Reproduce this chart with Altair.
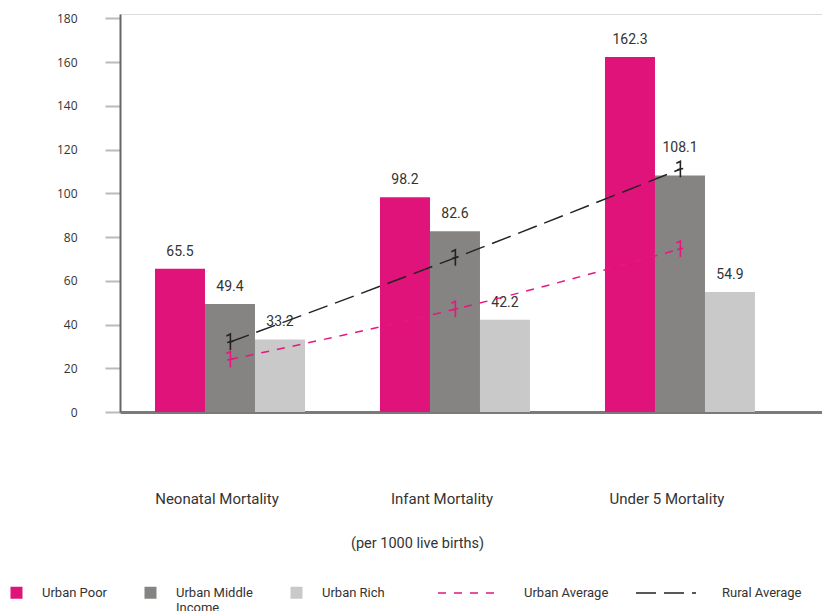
import altair as alt
import pandas as pd

# Mortality rates per 1000 live births
categories = ["Neonatal Mortality", "Infant Mortality", "Under 5 Mortality"]
groups = ["Urban Poor", "Urban Middle Income", "Urban Rich"]
urban_poor = [65.5, 98.2, 162.3]
urban_middle = [49.4, 82.6, 108.1]
urban_rich = [33.2, 42.2, 54.9]

series = ["Urban Average", "Rural Average"]
urban_average = [24, 47, 74.5]
rural_average = [32, 70.5, 111]

bar_colors = ["#E0137A", "#858482", "#C9C9C9"]
line_colors = ["#E8167F", "#222222"]

bars_df = pd.DataFrame(
    [
        {"Category": c, "Group": g, "Value": v}
        for g, vals in zip(groups, [urban_poor, urban_middle, urban_rich])
        for c, v in zip(categories, vals)
    ]
)
lines_df = pd.DataFrame(
    [
        {"Category": c, "Series": s, "Value": v}
        for s, vals in zip(series, [urban_average, rural_average])
        for c, v in zip(categories, vals)
    ]
)

FONT = "Roboto"

x_enc = alt.X(
    "Category:N",
    sort=categories,
    scale=alt.Scale(paddingInner=1 / 3, paddingOuter=0.2267, align=0.343),
    axis=alt.Axis(
        title="(per 1000 live births)",
        labelAngle=0,
        ticks=False,
        labelPadding=79,
        labelOffset=-13,
        labelFontSize=15,
        labelColor="#333333",
        labelFont=FONT,
        domainColor="#7a7a7a",
        domainWidth=3,
        titleFontWeight="normal",
        titleFontSize=14.5,
        titleColor="#333333",
        titleFont=FONT,
        titleX=297,
        titleY=131,
        titleBaseline="middle",
    ),
)
y_enc = alt.Y(
    "Value:Q",
    scale=alt.Scale(domain=[0, 182], nice=False),
    axis=alt.Axis(
        title=None,
        values=list(range(0, 181, 20)),
        grid=False,
        tickSize=15,
        tickColor="#bbbbbb",
        tickWidth=2,
        labelPadding=28,
        labelFontSize=12,
        labelColor="#333333",
        labelFont="Open Sans",
        domainColor="#666666",
        domainWidth=2,
    ),
)

# every legend label is two lines tall so the first lines line up
fill_legend = alt.Legend(
    title=None,
    orient="none",
    legendX=-110,
    legendY=572,
    direction="horizontal",
    columns=3,
    symbolType="square",
    symbolSize=144,
    symbolStrokeWidth=0,
    labelOffset=19,
    columnPadding=37,
    labelFont=FONT,
    labelFontSize=13,
    labelColor="#333333",
    labelLimit=200,
    padding=0,
    labelExpr="datum.label == 'Urban Middle Income' ? ['Urban Middle', 'Income'] : [datum.label, '']",
)

stroke_legend = alt.Legend(
    title=None,
    orient="none",
    legendX=317,
    legendY=548,
    direction="horizontal",
    columns=2,
    symbolType="stroke",
    symbolSize=3600,
    symbolStrokeWidth=1.5,
    labelOffset=25,
    columnPadding=24,
    labelFont=FONT,
    labelFontSize=13,
    labelColor="#333333",
    labelLimit=200,
    padding=0,
)

stroke_scale = alt.Scale(domain=series, range=line_colors)

bars = alt.Chart(bars_df).mark_bar().encode(
    x=x_enc,
    xOffset=alt.XOffset("Group:N", sort=groups, scale=alt.Scale(paddingInner=0, paddingOuter=0)),
    y=y_enc,
    fill=alt.Fill("Group:N", sort=groups, scale=alt.Scale(domain=groups, range=bar_colors), legend=fill_legend),
)

# value labels; the one under the rural marker is lifted clear of it
lifted = "datum.Category == 'Under 5 Mortality' && datum.Group == 'Urban Middle Income'"
label_enc = dict(
    x=alt.X("Category:N", sort=categories),
    xOffset=alt.XOffset("Group:N", sort=groups),
    y="Value:Q",
    text=alt.Text("Value:Q", format=".1f"),
)
labels = (
    alt.Chart(bars_df)
    .mark_text(baseline="bottom", dy=-10, fontSize=14, font=FONT, color="#333333")
    .encode(**label_enc)
    .transform_filter(f"!({lifted})")
)
labels_lifted = (
    alt.Chart(bars_df)
    .mark_text(baseline="bottom", dy=-21, fontSize=14, font=FONT, color="#333333")
    .encode(**label_enc)
    .transform_filter(lifted)
)

lines = alt.Chart(lines_df).mark_line(interpolate="monotone", strokeWidth=1.5).encode(
    x=alt.X("Category:N", sort=categories),
    y="Value:Q",
    stroke=alt.Stroke("Series:N", sort=series, scale=stroke_scale, legend=stroke_legend),
    strokeDash=alt.StrokeDash(
        "Series:N",
        sort=series,
        scale=alt.Scale(domain=series, range=[[8, 8], [20, 8]]),
        legend=stroke_legend,
    ),
)

# small "1"-shaped markers at each average point
marker_path = "M -0.45 -0.75 L 0.05 -1 L 0.05 1 M -0.35 0.05 L 0.4 -0.1"
markers = alt.Chart(lines_df).mark_point(
    shape=marker_path, filled=False, size=256, strokeWidth=1.6, opacity=1
).encode(
    x=alt.X("Category:N", sort=categories),
    y="Value:Q",
    stroke=alt.Stroke("Series:N", sort=series, scale=stroke_scale, legend=stroke_legend),
)

chart = (
    alt.layer(bars, labels, labels_lifted, lines, markers)
    .properties(
        width=702,
        height=398,
        autosize=alt.AutoSizeParams(type="none"),
        padding={"left": 120, "top": 14, "right": 0, "bottom": 199},
    )
    .configure_view(stroke=None)
    .configure(background="white")
)

chart.save("out.html", embed_options={"renderer": "svg", "actions": False})
